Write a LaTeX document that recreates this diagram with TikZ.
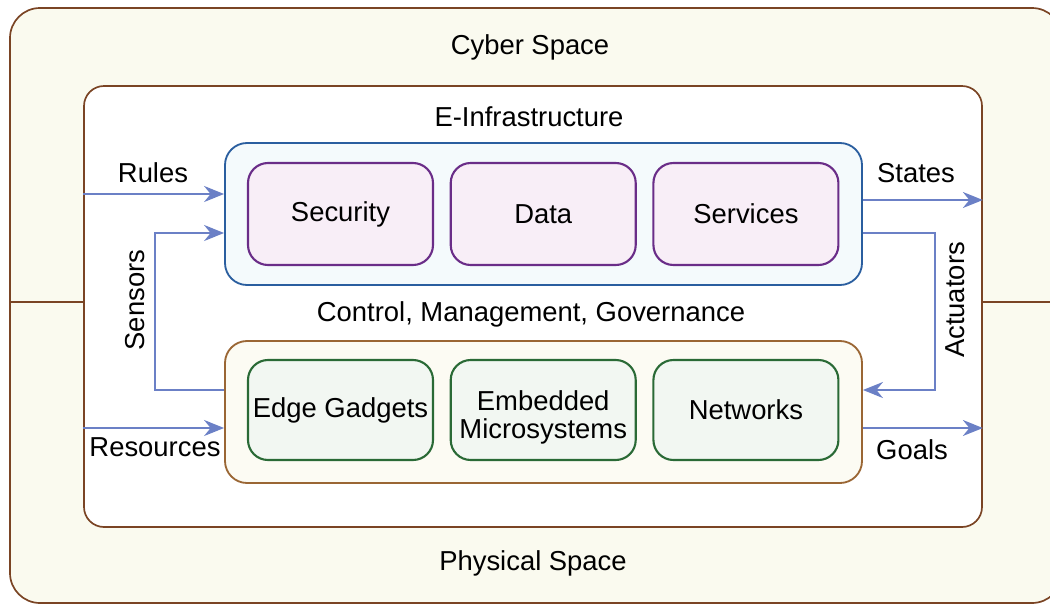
\documentclass[tikz,border=0pt]{standalone}
\usepackage{fontspec}
\setmainfont{Liberation Sans}
\usepackage{tikz}
\usetikzlibrary{positioning,arrows.meta,calc}
\definecolor{spaceline}{HTML}{7A4424}
\definecolor{spacefill}{HTML}{FAFAEF}
\definecolor{infraline}{HTML}{2A5E9F}
\definecolor{infrafill}{HTML}{F4FAFC}
\definecolor{ctrlline}{HTML}{9A6634}
\definecolor{ctrlfill}{HTML}{FCFBF3}
\definecolor{secline}{HTML}{6A2D88}
\definecolor{secfill}{HTML}{F8EEF7}
\definecolor{devline}{HTML}{2A6A36}
\definecolor{devfill}{HTML}{F2F7F2}
\definecolor{flowblue}{HTML}{6B80C6}
\tikzset{
  >={Stealth[length=5mm, width=4mm]},
  txt/.style={font=\fontsize{19.5}{20.6}\selectfont, align=center},
  zone/.style={draw=spaceline, line width=1.2pt, rounded corners=#1, inner sep=0pt},
  zone/.default=5mm,
  grp/.style={draw=#1, line width=1.3pt, rounded corners=5.5mm, minimum width=15.925cm,
              minimum height=3.55cm, inner sep=0pt},
  comp/.style={txt, draw=#1, line width=1.5pt, rounded corners=5mm, minimum width=4.625cm,
               minimum height=2.55cm, inner sep=0pt},
  secbox/.style={comp=secline, fill=secfill},
  devbox/.style={comp=devline, fill=devfill, minimum height=2.5cm},
  flow/.style={->, draw=flowblue, line width=1.1pt},
  lab/.style={txt}
}
\begin{document}
\begin{tikzpicture}
\useasboundingbox (0,0) rectangle (26.25,-15.1);
\node[zone=7.5mm, fill=spacefill, minimum width=26.3cm, minimum height=14.875cm] (world) at (13.4,-7.6375) {};
\node[zone=5mm, fill=white, minimum width=22.45cm, minimum height=11.025cm] (pane) at (13.325,-7.6625) {};
\draw[spaceline, line width=1.2pt] (world.west |- 0,-7.55) -- (pane.west |- 0,-7.55);
\draw[spaceline, line width=1.2pt] (pane.east |- 0,-7.55) -- (world.east |- 0,-7.55);
\node[lab] (cyber) at (13.25,-1.175) {Cyber Space};
\node[lab] (phys) at (13.325,-14.075) {Physical Space};
\node[lab] (einfra) at (13.225,-2.925) {E-Infrastructure};
\node[lab] (cmg) at (13.275,-7.85) {Control, Management, Governance};
\node[grp=infraline, fill=infrafill] (infra) at (13.5875,-5.35) {};
\node[grp=ctrlline, fill=ctrlfill] (ctrl) at (13.5875,-10.3) {};
\node[secbox] (sec) at (8.5125,-5.35) {Security};
\node[secbox, right=3.9mm of sec] (data) {Data};
\node[secbox, right=3.9mm of data] (serv) {Services};
\node[devbox] (edge) at (8.5125,-10.25) {Edge Gadgets};
\node[devbox, right=3.9mm of edge] (emb) {\raisebox{-4mm}[0pt][0pt]{\begin{tabular}{@{}c@{}}Embedded\\Microsystems\end{tabular}}};
\node[devbox, right=3.9mm of emb] (net) {Networks};
\draw[flow] ([yshift=5mm]infra.west -| pane.west) -- ([yshift=5mm]infra.west);
\draw[flow] ([yshift=5.5mm]ctrl.west) -- ++(-1.725,0) |- ([yshift=-4.75mm]infra.west);
\draw[flow] ([yshift=-4mm]ctrl.west -| pane.west) -- ([yshift=-4mm]ctrl.west);
\draw[flow] ([yshift=3.5mm]infra.east) -- ([yshift=3.5mm]infra.east -| pane.east);
\draw[flow] ([yshift=-4.75mm]infra.east) -- ++(1.8,0) |- ([yshift=5.5mm]ctrl.east);
\draw[flow] ([yshift=-4mm]ctrl.east) -- ([yshift=-4mm]ctrl.east -| pane.east);
\node[lab] (rules) at (3.825,-4.325) {Rules};
\node[lab] (states) at (22.9,-4.325) {States};
\node[lab] (res) at (3.875,-11.175) {Resources};
\node[lab] (goals) at (22.8,-11.25) {Goals};
\node[lab, rotate=90] (sens) at (3.375,-7.5) {Sensors};
\node[lab, rotate=90] (act) at (23.875,-7.5) {Actuators};
\end{tikzpicture}
\end{document}
